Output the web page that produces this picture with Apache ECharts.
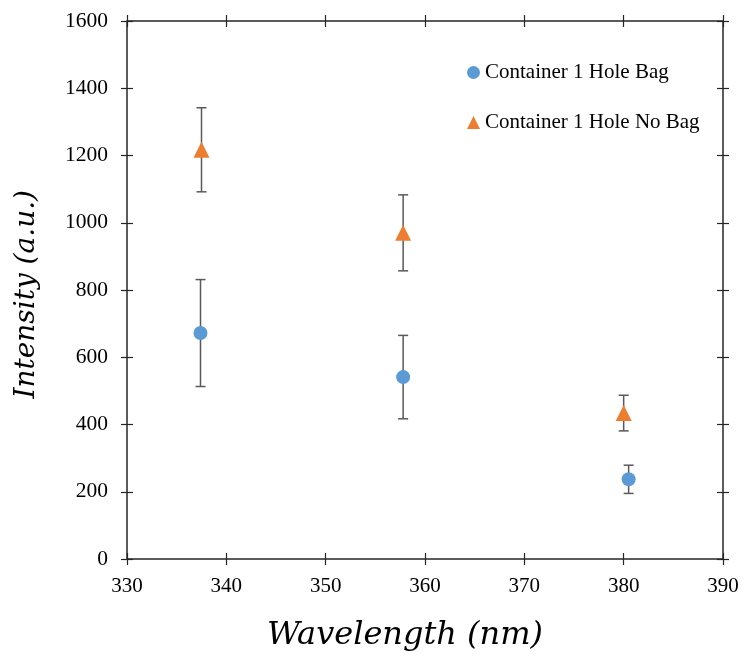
<!DOCTYPE html>
<html>
<head>
<meta charset="utf-8">
<script src="https://cdn.jsdelivr.net/npm/echarts@6/dist/echarts.min.js"></script>
<style>
html,body{margin:0;padding:0;background:#fff;}
#chart{width:747px;height:664px;}
</style>
</head>
<body>
<div id="chart"></div>
<script>
var seriesNames = ['Container 1 Hole Bag', 'Container 1 Hole No Bag'];
var bagX = [337.4, 357.8, 380.5];
var bagY = [672, 541, 237];
var bagErr = [159, 124, 42];
var noBagX = [337.5, 357.8, 380.0];
var noBagY = [1217, 970, 434];
var noBagErr = [125, 113, 53];
var xTicks = [330, 340, 350, 360, 370, 380, 390];
var yTicks = [0, 200, 400, 600, 800, 1000, 1200, 1400, 1600];

var blue = '#5B9BD5', orange = '#ED7D31';
var serif = '"Liberation Serif", "Times New Roman", serif';

function pts(xs, ys) { return xs.map(function (x, i) { return [x, ys[i]]; }); }
function errs(xs, ys, es) { return xs.map(function (x, i) { return [x, ys[i] - es[i], ys[i] + es[i]]; }); }

function errRender(params, api) {
  var x = api.value(0);
  var lo = api.coord([x, api.value(1)]);
  var hi = api.coord([x, api.value(2)]);
  var hw = 5;
  var st = { stroke: '#595959', lineWidth: 1.5 };
  return {
    type: 'group',
    children: [
      { type: 'line', shape: { x1: lo[0], y1: lo[1], x2: hi[0], y2: hi[1] }, style: st },
      { type: 'line', shape: { x1: lo[0] - hw, y1: lo[1], x2: lo[0] + hw, y2: lo[1] }, style: st },
      { type: 'line', shape: { x1: hi[0] - hw, y1: hi[1], x2: hi[0] + hw, y2: hi[1] }, style: st }
    ]
  };
}

var xMin = xTicks[0], xMax = xTicks[xTicks.length - 1], xInt = xTicks[1] - xTicks[0];
var yMin = yTicks[0], yMax = yTicks[yTicks.length - 1], yInt = yTicks[1] - yTicks[0];
var tickStyle = { color: '#262626', width: 1.2 };

function xAx(pos, showLabel) {
  return {
    type: 'value', position: pos, offset: -6, min: xMin, max: xMax, interval: xInt,
    splitLine: { show: false },
    axisLine: { show: false, onZero: false },
    axisTick: { show: true, inside: false, length: 12, lineStyle: tickStyle },
    axisLabel: { show: showLabel, margin: 23, fontFamily: serif, fontSize: 21, color: '#000' }
  };
}
function yAx(pos, showLabel) {
  return {
    type: 'value', position: pos, offset: -6, min: yMin, max: yMax, interval: yInt,
    splitLine: { show: false },
    axisLine: { show: false, onZero: false },
    axisTick: { show: true, inside: false, length: 12, lineStyle: tickStyle },
    axisLabel: { show: showLabel, margin: 25, fontFamily: serif, fontSize: 21.5, color: '#000',
      formatter: function (v) { return String(v); } }
  };
}

var chart = echarts.init(document.getElementById('chart'));
chart.setOption({
  animation: false,
  backgroundColor: '#fff',
  grid: { left: 127, right: 24, top: 21, bottom: 105, show: true, borderColor: '#262626', borderWidth: 1.5, backgroundColor: 'transparent' },
  xAxis: [xAx('bottom', true), xAx('top', false)],
  yAxis: [yAx('left', true), yAx('right', false)],
  legend: {
    orient: 'vertical', left: 462, top: 57, itemGap: 29, itemWidth: 13, itemHeight: 13,
    textStyle: { fontFamily: serif, fontSize: 21, color: '#000' },
    data: [{ name: seriesNames[0], icon: 'circle' }, { name: seriesNames[1], icon: 'triangle' }]
  },
  graphic: [
    { type: 'text', left: 13, top: 190, rotation: Math.PI / 2, style: { text: 'Intensity (a.u.)', font: 'italic 28px "DejaVu Serif", serif', fill: '#000' }, silent: true },
    { type: 'text', x: 405, y: 620, style: { text: 'Wavelength (nm)', font: 'italic 32px "DejaVu Serif", serif', fill: '#000', align: 'center' }, silent: true }
  ],
  series: [
    { type: 'custom', name: 'errBag', renderItem: errRender, data: errs(bagX, bagY, bagErr), z: 1, silent: true },
    { type: 'custom', name: 'errNoBag', renderItem: errRender, data: errs(noBagX, noBagY, noBagErr), z: 1, silent: true },
    { type: 'scatter', name: seriesNames[0], symbol: 'circle', symbolSize: 14, itemStyle: { color: blue, opacity: 1 }, data: pts(bagX, bagY), z: 3 },
    { type: 'scatter', name: seriesNames[1], symbol: 'triangle', symbolSize: 16, itemStyle: { color: orange, opacity: 1 }, data: pts(noBagX, noBagY), z: 3 }
  ]
});
</script>
</body>
</html>
